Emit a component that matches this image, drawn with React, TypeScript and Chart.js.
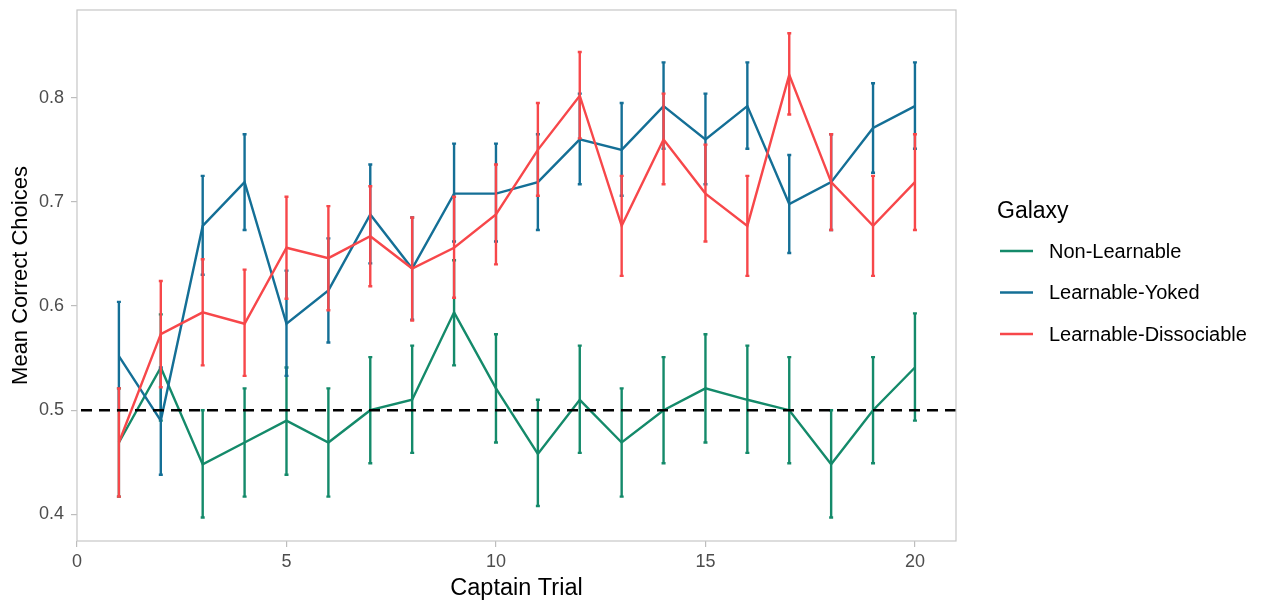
import React, { useEffect, useRef } from "react";
import { Chart, registerables } from "chart.js";

Chart.register(...registerables);

const trials = [1, 2, 3, 4, 5, 6, 7, 8, 9, 10, 11, 12, 13, 14, 15, 16, 17, 18, 19, 20];

const seriesNames = ["Non-Learnable", "Learnable-Yoked", "Learnable-Dissociable"];
const seriesColors = ["#148a6a", "#146f96", "#f7474a"];

const nonLearnableMean = [0.469, 0.541, 0.448, 0.469, 0.49, 0.469, 0.5, 0.51, 0.594, 0.521, 0.458, 0.51, 0.469, 0.5, 0.521, 0.51, 0.5, 0.448, 0.5, 0.541];
const nonLearnableLow = [0.417, 0.49, 0.397, 0.417, 0.438, 0.417, 0.449, 0.459, 0.543, 0.469, 0.408, 0.459, 0.417, 0.449, 0.469, 0.459, 0.449, 0.397, 0.449, 0.49];
const nonLearnableHigh = [0.521, 0.592, 0.5, 0.521, 0.541, 0.521, 0.551, 0.562, 0.644, 0.573, 0.51, 0.562, 0.521, 0.551, 0.573, 0.562, 0.551, 0.5, 0.551, 0.593];

const yokedMean = [0.552, 0.49, 0.677, 0.719, 0.583, 0.615, 0.688, 0.636, 0.708, 0.708, 0.719, 0.76, 0.75, 0.792, 0.76, 0.792, 0.698, 0.719, 0.771, 0.792];
const yokedLow = [0.5, 0.438, 0.63, 0.673, 0.533, 0.565, 0.641, 0.587, 0.662, 0.662, 0.673, 0.717, 0.706, 0.751, 0.717, 0.751, 0.651, 0.673, 0.728, 0.751];
const yokedHigh = [0.604, 0.541, 0.725, 0.765, 0.634, 0.665, 0.736, 0.685, 0.756, 0.756, 0.765, 0.804, 0.795, 0.834, 0.804, 0.834, 0.745, 0.765, 0.814, 0.834];

const dissocMean = [0.469, 0.573, 0.594, 0.583, 0.656, 0.646, 0.667, 0.636, 0.656, 0.688, 0.75, 0.802, 0.677, 0.76, 0.708, 0.677, 0.822, 0.719, 0.677, 0.719];
const dissocLow = [0.417, 0.522, 0.543, 0.533, 0.607, 0.596, 0.619, 0.586, 0.608, 0.64, 0.706, 0.761, 0.629, 0.717, 0.662, 0.629, 0.784, 0.673, 0.629, 0.673];
const dissocHigh = [0.521, 0.624, 0.645, 0.635, 0.705, 0.696, 0.715, 0.685, 0.705, 0.736, 0.795, 0.844, 0.725, 0.804, 0.755, 0.725, 0.862, 0.765, 0.725, 0.765];

const xTicks = [0, 5, 10, 15, 20];
const yTicks = [0.4, 0.5, 0.6, 0.7, 0.8];
const chanceLevel = 0.5;

const FONT = "'Liberation Sans', Arial, Helvetica, sans-serif";

const means = [nonLearnableMean, yokedMean, dissocMean];
const lows = [nonLearnableLow, yokedLow, dissocLow];
const highs = [nonLearnableHigh, yokedHigh, dissocHigh];

const overlayPlugin = {
  id: "overlay",
  afterDatasetDraw(chart: any, args: any) {
    const i = args.index;
    const ctx = chart.ctx;
    const xs = chart.scales.x;
    const ys = chart.scales.y;
    ctx.save();
    ctx.strokeStyle = seriesColors[i];
    ctx.lineWidth = 2.4;
    ctx.lineCap = "butt";
    trials.forEach((t, k) => {
      const px = xs.getPixelForValue(t);
      const y1 = ys.getPixelForValue(lows[i][k]);
      const y2 = ys.getPixelForValue(highs[i][k]);
      ctx.beginPath();
      ctx.moveTo(px, y1);
      ctx.lineTo(px, y2);
      ctx.moveTo(px - 2, y1);
      ctx.lineTo(px + 2, y1);
      ctx.moveTo(px - 2, y2);
      ctx.lineTo(px + 2, y2);
      ctx.stroke();
    });
    ctx.restore();
  },
  afterDatasetsDraw(chart: any) {
    const ctx = chart.ctx;
    const a = chart.chartArea;
    const ys = chart.scales.y;
    const yp = ys.getPixelForValue(chanceLevel);
    ctx.save();
    ctx.beginPath();
    ctx.rect(a.left, a.top, a.right - a.left, a.bottom - a.top);
    ctx.clip();
    ctx.strokeStyle = "#000000";
    ctx.lineWidth = 2.4;
    ctx.setLineDash([11, 7]);
    ctx.beginPath();
    ctx.moveTo(a.left + 4, yp);
    ctx.lineTo(a.right, yp);
    ctx.stroke();
    ctx.restore();
  },
  afterDraw(chart: any) {
    const ctx = chart.ctx;
    const a = chart.chartArea;
    ctx.save();
    // panel border
    ctx.strokeStyle = "#c6c6c6";
    ctx.lineWidth = 1.2;
    ctx.strokeRect(a.left, a.top, a.right - a.left, a.bottom - a.top);
    // axis titles
    ctx.fillStyle = "#000000";
    ctx.font = `23.5px ${FONT}`;
    ctx.textAlign = "center";
    ctx.textBaseline = "alphabetic";
    ctx.fillText("Captain Trial", (a.left + a.right) / 2, 595);
    ctx.save();
    ctx.font = `22px ${FONT}`;
    ctx.translate(27, (a.top + a.bottom) / 2);
    ctx.rotate(-Math.PI / 2);
    ctx.fillText("Mean Correct Choices", 0, 0);
    ctx.restore();
    // legend
    ctx.textAlign = "left";
    ctx.font = `23px ${FONT}`;
    ctx.fillText("Galaxy", 997, 218);
    ctx.font = `20px ${FONT}`;
    ctx.textBaseline = "middle";
    const ly = [251, 292.5, 334];
    seriesNames.forEach((n, i) => {
      ctx.strokeStyle = seriesColors[i];
      ctx.lineWidth = 2.4;
      ctx.beginPath();
      ctx.moveTo(1000, ly[i]);
      ctx.lineTo(1033, ly[i]);
      ctx.stroke();
      ctx.fillStyle = "#000000";
      ctx.fillText(n, 1049, ly[i] + 1);
    });
    ctx.restore();
  },
};

export default function App() {
  const ref = useRef<HTMLCanvasElement | null>(null);
  useEffect(() => {
    document.body.style.margin = "0";
    const canvas = ref.current;
    if (!canvas) return;
    const datasets = seriesNames.map((name, i) => ({
      label: name,
      data: trials.map((t, k) => ({ x: t, y: means[i][k] })),
      borderColor: seriesColors[i],
      backgroundColor: seriesColors[i],
      borderWidth: 2.4,
      pointRadius: 0,
      pointHoverRadius: 0,
      tension: 0,
      fill: false,
      order: 3 - i,
    }));
    const chart = new Chart(canvas, {
      type: "line",
      data: { datasets },
      options: {
        animation: false,
        responsive: false,
        maintainAspectRatio: false,
        events: [],
        layout: { padding: { left: 0, top: 10, right: 310, bottom: 0 } },
        plugins: { legend: { display: false }, tooltip: { enabled: false } },
        scales: {
          x: {
            type: "linear",
            min: 0,
            max: 20.98,
            border: { display: false },
            grid: { drawOnChartArea: false, tickColor: "#bdbdbd", tickLength: 6, lineWidth: 1.2 },
            ticks: { color: "#4d4d4d", font: { size: 18, family: FONT }, padding: 4, maxRotation: 0 },
            afterBuildTicks: (s: any) => {
              s.ticks = xTicks.map((v) => ({ value: v }));
            },
            afterFit: (s: any) => {
              s.height = 62;
              s.paddingLeft = 0;
              s.paddingRight = 0;
              s.paddingTop = 0;
              s.paddingBottom = 0;
            },
          },
          y: {
            type: "linear",
            min: 0.3744,
            max: 0.8843,
            border: { display: false },
            grid: { drawOnChartArea: false, tickColor: "#bdbdbd", tickLength: 6, lineWidth: 1.2 },
            ticks: {
              color: "#4d4d4d",
              font: { size: 18, family: FONT },
              padding: 7,
              callback: (v: any) => Number(v).toFixed(1),
            },
            afterBuildTicks: (s: any) => {
              s.ticks = yTicks.map((v) => ({ value: v }));
            },
            afterFit: (s: any) => {
              s.width = 77;
              s.paddingLeft = 0;
              s.paddingRight = 0;
              s.paddingTop = 0;
              s.paddingBottom = 0;
            },
          },
        },
      },
      plugins: [overlayPlugin],
    });
    return () => chart.destroy();
  }, []);
  return (
    <div style={{ position: "absolute", left: 0, top: 0, width: 1266, height: 603, background: "#ffffff" }}>
      <canvas ref={ref} width={1266} height={603} style={{ display: "block" }} />
    </div>
  );
}
